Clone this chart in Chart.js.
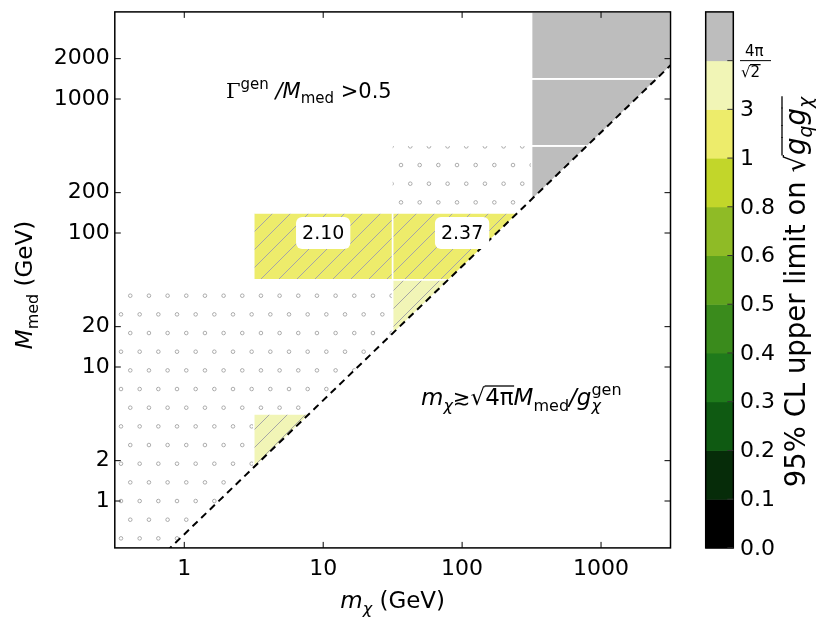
<!DOCTYPE html>
<html>
<head>
<meta charset="utf-8">
<script src="https://cdn.jsdelivr.net/npm/chart.js@4.4.0/dist/chart.umd.min.js"></script>
<style>
  body { margin: 0; background: #fff; }
  #wrap { width: 831px; height: 632px; position: relative; }
</style>
</head>
<body>
<div id="wrap"><canvas id="myChart"></canvas></div>
<script>
// bin edges of the scan grid (GeV)
var xEdges = [0.3162, 3.162, 31.62, 316.2, 3162]
var yEdges = [0.4467, 1.413, 4.467, 14.13, 44.67, 141.3, 446.7, 1413, 4467]
var xTicks = [1, 10, 100, 1000]
var yTicks = [1, 2, 10, 20, 100, 200, 1000, 2000]

// grid cells with a limit (column / row index into the edges)
var cellCol = [1, 2, 2, 1, 3, 3, 3]
var cellRow = [4, 4, 3, 1, 5, 6, 7]
var cellLimit = [2.10, 2.37, 4.6, 4.2, 12, 12, 12]
var cellHatch = [true, true, true, true, false, false, false]

// printed values
var labelX = [10, 100]
var labelY = [100, 100]
var labelText = ['2.10', '2.37']

// grid cells without a result
var emptyCol = [0, 0, 0, 0, 1, 1, 2]
var emptyRow = [0, 1, 2, 3, 2, 3, 5]

// kinematic limit m_chi = sqrt(pi) M_med
var limitX = [0.3162, 3162]
var limitY = [0.1784, 1784]

// colour bar
var cbBounds = [0, 0.1, 0.2, 0.3, 0.4, 0.5, 0.6, 0.8, 1, 3, 8.886, 1000]
var cbLabels = ['0.0', '0.1', '0.2', '0.3', '0.4', '0.5', '0.6', '0.8', '1', '3', '']
var cbColors = ['#000000', '#062c09', '#0f5a12', '#1f7a1b', '#3a8b1c', '#5fa31e',
                '#8fbb26', '#c2d62a', '#edec6b', '#f1f5b6', '#bdbdbd']

function colorFor(v) {
  for (var i = 0; i < cbColors.length; i++) {
    if (v >= cbBounds[i] && v < cbBounds[i + 1]) return cbColors[i]
  }
  return cbColors[cbColors.length - 1]
}

function fnt(size, style, fam) {
  return (style || '') + ' ' + size + 'px ' + (fam || '"DejaVu Sans"')
}

// tiny rich text: {t, f, dy, bar, hold}
function richWidth(ctx, parts) {
  var w = 0
  parts.forEach(function (p) { ctx.font = p.f; if (!p.hold) w += ctx.measureText(p.t).width })
  return w
}
function drawRich(ctx, parts, x, y) {
  var cx = x
  parts.forEach(function (p) {
    ctx.font = p.f
    var w = ctx.measureText(p.t).width
    ctx.fillText(p.t, cx, y + (p.dy || 0))
    if (p.bar) {
      ctx.beginPath()
      ctx.lineWidth = 1.3
      ctx.moveTo(cx - 0.5, y - p.bar)
      ctx.lineTo(cx + w + 0.5, y - p.bar)
      ctx.stroke()
    }
    if (!p.hold) cx += w
  })
}

var hatchPat = null, dotPat = null
function makePatterns(ctx) {
  var c = document.createElement('canvas')
  c.width = 18; c.height = 18
  var g = c.getContext('2d')
  g.strokeStyle = '#a6a6a6'
  g.lineWidth = 1
  g.beginPath()
  g.moveTo(-2, 20); g.lineTo(20, -2)
  g.moveTo(-2, 2); g.lineTo(2, -2)
  g.moveTo(16, 20); g.lineTo(20, 16)
  g.stroke()
  hatchPat = ctx.createPattern(c, 'repeat')

  var d = document.createElement('canvas')
  d.width = 56; d.height = 112
  var h = d.getContext('2d')
  h.strokeStyle = '#999999'
  h.lineWidth = 0.8
  var s = 56 / 3
  for (var j = -1; j <= 6; j++) {
    for (var i = -1; i <= 3; i++) {
      var px = (j % 2 !== 0 ? -0.4 : 9) + i * s
      var py = 15.7 + j * s
      h.beginPath()
      h.arc(px, py, 1.8, 0, Math.PI * 2)
      h.stroke()
    }
  }
  dotPat = ctx.createPattern(d, 'repeat')
}

var cellsPlugin = {
  id: 'cells',
  beforeDatasetsDraw: function (chart) {
    var ctx = chart.ctx, xs = chart.scales.x, ys = chart.scales.y, a = chart.chartArea
    if (!hatchPat) makePatterns(ctx)
    ctx.save()
    ctx.beginPath()
    ctx.rect(a.left, a.top, a.right - a.left, a.bottom - a.top)
    ctx.clip()
    // keep only the side above the kinematic limit
    var x0 = xs.getPixelForValue(limitX[0]), x1 = xs.getPixelForValue(limitX[1])
    ctx.beginPath()
    ctx.moveTo(x0, ys.getPixelForValue(limitY[0]))
    ctx.lineTo(x1, ys.getPixelForValue(limitY[1]))
    ctx.lineTo(x1 + 50, a.top - 50)
    ctx.lineTo(x0 - 50, a.top - 50)
    ctx.closePath()
    ctx.clip()

    function rect(col, row) {
      var l = xs.getPixelForValue(xEdges[col]), r = xs.getPixelForValue(xEdges[col + 1])
      var b = ys.getPixelForValue(yEdges[row]), t = ys.getPixelForValue(yEdges[row + 1])
      ctx.beginPath()
      ctx.rect(l, t, r - l, b - t)
    }

    emptyCol.forEach(function (c, i) {
      rect(c, emptyRow[i])
      ctx.fillStyle = dotPat
      ctx.fill()
    })
    cellCol.forEach(function (c, i) {
      rect(c, cellRow[i])
      ctx.fillStyle = colorFor(cellLimit[i])
      ctx.fill()
      if (cellHatch[i]) {
        ctx.fillStyle = hatchPat
        ctx.fill()
      }
      ctx.strokeStyle = '#ffffff'
      ctx.lineWidth = 1.6
      ctx.stroke()
    })
    ctx.restore()
  }
}

var overlayPlugin = {
  id: 'overlay',
  afterDatasetsDraw: function (chart) {
    var ctx = chart.ctx, xs = chart.scales.x, ys = chart.scales.y, a = chart.chartArea
    ctx.save()
    ctx.fillStyle = '#000'
    ctx.strokeStyle = '#000'
    ctx.textAlign = 'left'
    ctx.textBaseline = 'alphabetic'

    // value boxes
    labelX.forEach(function (v, i) {
      var px = xs.getPixelForValue(v), py = ys.getPixelForValue(labelY[i])
      ctx.font = fnt(19)
      var tw = ctx.measureText(labelText[i]).width
      var w = tw + 12, h = 32
      ctx.beginPath()
      ctx.roundRect(px - w / 2, py - h / 2, w, h, 6)
      ctx.fillStyle = '#fff'
      ctx.fill()
      ctx.fillStyle = '#000'
      ctx.textBaseline = 'middle'
      ctx.fillText(labelText[i], px - tw / 2, py + 1)
      ctx.textBaseline = 'alphabetic'
    })

    // annotations
    drawRich(ctx, [
      { t: 'Γ', f: fnt(21, '', '"DejaVu Serif"') },
      { t: 'gen', f: fnt(15), dy: -9 },
      { t: ' /M', f: fnt(21, 'italic') },
      { t: 'med', f: fnt(15), dy: 5 },
      { t: ' >0.5', f: fnt(21) }
    ], 226, 98)
    drawRich(ctx, [
      { t: 'm', f: fnt(23, 'italic') },
      { t: 'χ', f: fnt(16, 'italic'), dy: 6 },
      { t: '≳', f: fnt(21) },
      { t: '√', f: fnt(23) },
      { t: '4π', f: fnt(23), bar: 19 },
      { t: 'M', f: fnt(23, 'italic') },
      { t: 'med', f: fnt(16), dy: 6 },
      { t: '/g', f: fnt(23, 'italic') },
      { t: 'χ', f: fnt(16, 'italic'), dy: 6, hold: true },
      { t: 'gen', f: fnt(16), dy: -10 }
    ], 421, 405)

    // frame and inward ticks
    ctx.lineWidth = 1.5
    ctx.strokeRect(a.left, a.top, a.right - a.left, a.bottom - a.top)
    ctx.lineWidth = 1
    ctx.beginPath()
    xTicks.forEach(function (v) {
      var p = xs.getPixelForValue(v)
      ctx.moveTo(p, a.bottom); ctx.lineTo(p, a.bottom - 6)
      ctx.moveTo(p, a.top); ctx.lineTo(p, a.top + 6)
    })
    yTicks.forEach(function (v) {
      var p = ys.getPixelForValue(v)
      ctx.moveTo(a.left, p); ctx.lineTo(a.left + 6, p)
      ctx.moveTo(a.right, p); ctx.lineTo(a.right - 6, p)
    })
    ctx.stroke()
    ctx.restore()
  },
  afterDraw: function (chart) {
    var ctx = chart.ctx, a = chart.chartArea
    ctx.save()
    ctx.fillStyle = '#000'
    ctx.strokeStyle = '#000'
    ctx.textBaseline = 'alphabetic'

    // axis titles
    var xt = [
      { t: 'm', f: fnt(23, 'italic') },
      { t: 'χ', f: fnt(16, 'italic'), dy: 6 },
      { t: ' (GeV)', f: fnt(23) }
    ]
    drawRich(ctx, xt, (a.left + a.right) / 2 - richWidth(ctx, xt) / 2, 608)
    var yt = [
      { t: 'M', f: fnt(23, 'italic') },
      { t: 'med', f: fnt(16), dy: 6 },
      { t: ' (GeV)', f: fnt(23) }
    ]
    ctx.save()
    ctx.translate(32, 285)
    ctx.rotate(-Math.PI / 2)
    drawRich(ctx, yt, -richWidth(ctx, yt) / 2, 0)
    ctx.restore()

    // colour bar
    var L = 705.7, R = 733.3, T = a.top, B = a.bottom
    var n = cbColors.length, h = (B - T) / n
    cbColors.forEach(function (c, i) {
      ctx.fillStyle = c
      ctx.fillRect(L, B - (i + 1) * h, R - L, h + 0.5)
    })
    ctx.lineWidth = 1.5
    ctx.strokeStyle = '#000'
    ctx.strokeRect(L, T, R - L, B - T)
    ctx.lineWidth = 1
    ctx.strokeStyle = '#333'
    ctx.fillStyle = '#000'
    ctx.font = fnt(22)
    ctx.textBaseline = 'middle'
    for (var i = 0; i < n; i++) {
      var y = B - i * h
      ctx.beginPath()
      ctx.moveTo(R, y); ctx.lineTo(R - 6, y)
      ctx.stroke()
      if (cbLabels[i]) ctx.fillText(cbLabels[i], 740, y + 1)
    }
    // 4pi/sqrt2 tick label
    var yf = B - (n - 1) * h
    ctx.font = fnt(15)
    ctx.textBaseline = 'alphabetic'
    ctx.fillText('4π', 745, yf - 5)
    ctx.strokeStyle = '#000'
    ctx.lineWidth = 1
    ctx.beginPath()
    ctx.moveTo(740, yf); ctx.lineTo(771, yf)
    ctx.stroke()
    drawRich(ctx, [{ t: '√', f: fnt(15) }, { t: '2', f: fnt(15), bar: 12 }], 741, yf + 16)

    // colour bar title
    var ct = [
      { t: '95% CL upper limit on ', f: fnt(27.5) },
      { t: '√', f: fnt(27.5) },
      { t: 'g', f: fnt(27.5, 'italic'), bar: 23 },
      { t: 'q', f: fnt(19, 'italic'), dy: 7, bar: 23 },
      { t: 'g', f: fnt(27.5, 'italic'), bar: 23 },
      { t: 'χ', f: fnt(19, 'italic'), dy: 7, bar: 23 }
    ]
    ctx.fillStyle = '#000'
    ctx.save()
    ctx.translate(805, 292)
    ctx.rotate(-Math.PI / 2)
    drawRich(ctx, ct, -richWidth(ctx, ct) / 2, 0)
    ctx.restore()
    ctx.restore()
  }
}

var tickFont = { family: 'DejaVu Sans', size: 22 }
var ctx = document.getElementById('myChart')
new Chart(ctx, {
  type: 'scatter',
  data: {
    datasets: [{
      data: limitX.map(function (v, i) { return { x: v, y: limitY[i] } }),
      showLine: true,
      borderColor: '#000',
      borderWidth: 2,
      borderDash: [7, 5],
      pointRadius: 0,
      fill: false
    }]
  },
  options: {
    responsive: true,
    maintainAspectRatio: false,
    animation: false,
    events: [],
    layout: { padding: { top: 11.9, right: 160.5, left: 0, bottom: 0 } },
    plugins: { legend: { display: false }, tooltip: { enabled: false } },
    scales: {
      x: {
        type: 'logarithmic',
        min: xEdges[0],
        max: xEdges[xEdges.length - 1],
        bounds: 'data',
        grid: { display: false, tickLength: 0 },
        border: { display: false },
        ticks: {
          autoSkip: false, maxRotation: 0, padding: 8, color: '#000', font: tickFont,
          callback: function (v) { return String(v) }
        },
        afterBuildTicks: function (s) { s.ticks = xTicks.map(function (v) { return { value: v } }) },
        afterFit: function (s) { s.height = 84.1; s.paddingLeft = 0; s.paddingRight = 0 }
      },
      y: {
        type: 'logarithmic',
        min: yEdges[0],
        max: yEdges[yEdges.length - 1],
        bounds: 'data',
        grid: { display: false, tickLength: 0 },
        border: { display: false },
        ticks: {
          autoSkip: false, padding: 5, color: '#000', font: tickFont,
          callback: function (v) { return String(v) }
        },
        afterBuildTicks: function (s) { s.ticks = yTicks.map(function (v) { return { value: v } }) },
        afterFit: function (s) { s.width = 114.8; s.paddingTop = 0; s.paddingBottom = 0 }
      }
    }
  },
  plugins: [cellsPlugin, overlayPlugin]
})
</script>
</body>
</html>
